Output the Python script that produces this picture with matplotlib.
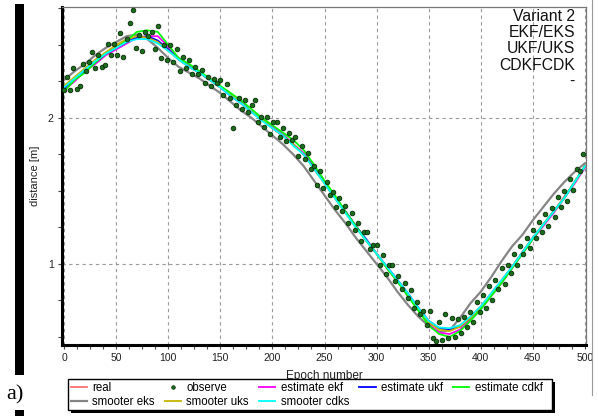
import numpy as np
import matplotlib
matplotlib.use('Agg')
import matplotlib.pyplot as plt
import matplotlib.patches as patch
from matplotlib.lines import Line2D
from matplotlib.ticker import MultipleLocator

plt.rcParams['font.family'] = ['Liberation Sans', 'DejaVu Sans']

epoch = np.arange(0, 501, 10)

real = [2.21, 2.27, 2.33, 2.39, 2.44, 2.49, 2.53, 2.55, 2.55, 2.52, 2.47, 2.41, 2.36, 2.31, 2.26, 2.21, 2.16,
        2.10, 2.04, 1.99, 1.93, 1.88, 1.82, 1.75, 1.66, 1.56, 1.46, 1.36, 1.26, 1.16, 1.07, 0.98, 0.89, 0.79,
        0.70, 0.61, 0.56, 0.55, 0.58, 0.64, 0.71, 0.80, 0.89, 0.98, 1.08, 1.18, 1.27, 1.36, 1.46, 1.56, 1.67]
est_ekf = [2.19, 2.25, 2.32, 2.37, 2.43, 2.47, 2.51, 2.55, 2.56, 2.56, 2.49, 2.41, 2.36, 2.31, 2.27, 2.21, 2.16,
           2.11, 2.04, 1.99, 1.94, 1.89, 1.82, 1.76, 1.67, 1.56, 1.46, 1.36, 1.26, 1.16, 1.07, 0.97, 0.88, 0.78,
           0.69, 0.59, 0.53, 0.52, 0.55, 0.62, 0.69, 0.78, 0.87, 0.97, 1.07, 1.17, 1.26, 1.35, 1.45, 1.55, 1.66]
est_ukf = [2.20, 2.27, 2.32, 2.38, 2.44, 2.48, 2.52, 2.55, 2.56, 2.53, 2.47, 2.40, 2.35, 2.31, 2.26, 2.21, 2.15,
           2.10, 2.04, 1.99, 1.93, 1.88, 1.82, 1.75, 1.66, 1.56, 1.46, 1.36, 1.26, 1.17, 1.07, 0.98, 0.89, 0.80,
           0.70, 0.61, 0.56, 0.55, 0.57, 0.63, 0.70, 0.79, 0.88, 0.98, 1.08, 1.18, 1.27, 1.36, 1.45, 1.56, 1.67]
est_cdkf = [2.18, 2.26, 2.31, 2.38, 2.44, 2.48, 2.53, 2.59, 2.60, 2.59, 2.50, 2.41, 2.37, 2.32, 2.27, 2.22, 2.17,
            2.12, 2.06, 2.00, 1.95, 1.90, 1.85, 1.78, 1.68, 1.57, 1.47, 1.36, 1.26, 1.16, 1.07, 0.97, 0.88, 0.78,
            0.68, 0.58, 0.52, 0.50, 0.54, 0.61, 0.69, 0.78, 0.87, 0.97, 1.07, 1.17, 1.27, 1.36, 1.45, 1.56, 1.67]
smo_eks = [2.26, 2.32, 2.37, 2.43, 2.48, 2.52, 2.56, 2.57, 2.54, 2.48, 2.41, 2.35, 2.31, 2.27, 2.22, 2.17, 2.11,
           2.05, 2.00, 1.94, 1.88, 1.82, 1.75, 1.67, 1.57, 1.47, 1.37, 1.28, 1.18, 1.09, 1.00, 0.91, 0.81, 0.72,
           0.64, 0.575, 0.535, 0.545, 0.63, 0.73, 0.81, 0.91, 1.02, 1.12, 1.20, 1.30, 1.39, 1.48, 1.56, 1.63, 1.69]
smo_uks = [2.22, 2.28, 2.34, 2.40, 2.45, 2.50, 2.54, 2.56, 2.55, 2.52, 2.46, 2.40, 2.35, 2.31, 2.26, 2.21, 2.16,
           2.10, 2.04, 1.99, 1.93, 1.88, 1.82, 1.75, 1.65, 1.55, 1.45, 1.35, 1.25, 1.16, 1.07, 0.97, 0.88, 0.79,
           0.69, 0.60, 0.55, 0.54, 0.57, 0.63, 0.70, 0.79, 0.88, 0.98, 1.08, 1.18, 1.27, 1.36, 1.45, 1.56, 1.67]
smo_cdks = [2.21, 2.27, 2.33, 2.39, 2.44, 2.48, 2.52, 2.54, 2.54, 2.51, 2.46, 2.40, 2.35, 2.31, 2.26, 2.21, 2.15,
            2.10, 2.04, 1.98, 1.93, 1.88, 1.81, 1.75, 1.65, 1.55, 1.45, 1.35, 1.25, 1.16, 1.07, 0.98, 0.89, 0.80,
            0.70, 0.61, 0.565, 0.56, 0.58, 0.64, 0.71, 0.80, 0.89, 0.98, 1.08, 1.18, 1.27, 1.36, 1.45, 1.56, 1.67]

# noisy observations (every 3rd epoch)
obs_epoch = np.arange(0, 500, 3)
observe = [2.19, 2.28, 2.19, 2.34, 2.20, 2.22, 2.37, 2.32, 2.38, 2.45, 2.34, 2.43, 2.35, 2.36, 2.51, 2.43, 2.51,
           2.43, 2.58, 2.42, 2.54, 2.65, 2.74, 2.48, 2.57, 2.46, 2.59, 2.56, 2.59, 2.47, 2.63, 2.41, 2.50, 2.40,
           2.50, 2.38, 2.47, 2.32, 2.42, 2.34, 2.40, 2.30, 2.35, 2.30, 2.33, 2.24, 2.28, 2.22, 2.27, 2.24, 2.26,
           2.16, 2.23, 2.14, 1.93, 2.09, 2.14, 2.06, 2.12, 2.04, 2.09, 2.12, 1.97, 2.01, 1.94, 2.01, 1.89, 1.97,
           1.97, 1.87, 1.93, 1.84, 1.90, 1.85, 1.87, 1.74, 1.81, 1.72, 1.76, 1.65, 1.67, 1.54, 1.64, 1.52, 1.56,
           1.47, 1.49, 1.39, 1.45, 1.36, 1.40, 1.28, 1.35, 1.23, 1.28, 1.16, 1.22, 1.22, 1.10, 1.13, 1.13, 0.99,
           1.06, 0.93, 0.99, 0.99, 0.88, 0.92, 0.83, 0.87, 0.77, 0.82, 0.70, 0.74, 0.66, 0.68, 0.58, 0.68, 0.49,
           0.47, 0.60, 0.48, 0.66, 0.49, 0.63, 0.50, 0.62, 0.53, 0.64, 0.57, 0.67, 0.60, 0.74, 0.67, 0.79, 0.70,
           0.85, 0.75, 0.89, 0.83, 0.97, 0.86, 0.99, 0.94, 1.07, 0.99, 1.12, 1.07, 1.18, 1.11, 1.23, 1.18, 1.29,
           1.22, 1.34, 1.26, 1.38, 1.32, 1.46, 1.39, 1.50, 1.43, 1.58, 1.51, 1.65, 1.64, 1.75]

W, H = 598, 416
fig = plt.figure(figsize=(W / 100, H / 100), dpi=100)

def fx(px):
    return px / W

def fy(py):
    return 1 - py / H

ax = fig.add_axes([fx(62), fy(345), fx(586) - fx(62), fy(7) - fy(345)])

lw = 1.3
h_real, = ax.plot(epoch, real, color='#ff7070', lw=lw, label='real')
h_eks, = ax.plot(epoch, smo_eks, color='#858585', lw=1.6, label='smooter eks')
h_ekf, = ax.plot(epoch, est_ekf, color='#ff00ff', lw=lw, label='estimate ekf')
h_ukf, = ax.plot(epoch, est_ukf, color='#0000ff', lw=lw, label='estimate ukf')
h_uks, = ax.plot(epoch, smo_uks, color='#c8b400', lw=lw, label='smooter uks')
h_cdkf, = ax.plot(epoch, est_cdkf, color='#00ff00', lw=lw, label='estimate cdkf')
h_cdks, = ax.plot(epoch, smo_cdks, color='#00ffff', lw=lw, label='smooter cdks')
ax.scatter(obs_epoch, observe, s=11, facecolor='#1b6e1b', edgecolor='#062a06', linewidth=0.6, zorder=5)
h_obs = Line2D([], [], ls='none', marker='o', ms=2.6, mfc='#1b6e1b', mec='#062a06', mew=0.5, label='observe')

ax.set_xlim(-2, 501)
ax.set_ylim(0.445, 2.76)
ax.xaxis.set_major_locator(MultipleLocator(50))
ax.xaxis.set_minor_locator(MultipleLocator(12.5))
ax.yaxis.set_major_locator(MultipleLocator(1))
ax.yaxis.set_minor_locator(MultipleLocator(0.25))
ax.tick_params(which='both', direction='out', length=3, width=0.8, color='#444444',
               labelsize=7.5, labelcolor='#202020', pad=3)
ax.grid(True, which='major', color='#9a9a9a', ls=(0, (3, 3)), lw=0.8)

for s in ['left', 'bottom']:
    ax.spines[s].set_linewidth(2.2)
    ax.spines[s].set_color('black')
for s in ['top', 'right']:
    ax.spines[s].set_linewidth(0.9)
    ax.spines[s].set_color('#777777')

ax.set_xlabel('Epoch number', fontsize=8.5, color='#202020')
ax.set_ylabel('distance [m]', fontsize=8, color='#202020')
ax.xaxis.set_label_coords(0.5, -0.074)
ax.yaxis.set_label_coords(-0.042, 0.5)

fig.text(fx(575), fy(9), 'Variant 2\nEKF/EKS\nUKF/UKS\nCDKFCDK\n-', ha='right', va='top',
         fontsize=11.3, linespacing=1.1, color='#111111')

# legend box drawn by hand (wider than its content, with a black shadow)
fig.patches.append(patch.Rectangle((fx(71), fy(413)), fx(552) - fx(68), fy(379) - fy(410),
                                   transform=fig.transFigure, facecolor='black', edgecolor='none'))
fig.patches.append(patch.Rectangle((fx(68), fy(410)), fx(552) - fx(68), fy(379) - fy(410),
                                   transform=fig.transFigure, facecolor='white', edgecolor='black', lw=1))
handles = [h_real, h_eks, h_obs, h_uks, h_ekf, h_cdks, h_ukf, h_cdkf]
fig.legend(handles=handles, labels=[h.get_label() for h in handles], ncol=5, frameon=False,
           loc='upper left', bbox_to_anchor=(fx(68), fy(379)), fontsize=8.3, handlelength=1.4,
           handletextpad=0.45, columnspacing=0.9, labelspacing=0.2, borderpad=0.25, borderaxespad=0)

# scan leftovers: black bar on the left, "a)" label and thin line on the right
fig.patches.append(patch.Rectangle((fx(15), fy(375)), fx(9), fy(4) - fy(375),
                                   transform=fig.transFigure, facecolor='black'))
fig.patches.append(patch.Rectangle((fx(15), fy(416)), fx(9), fy(410) - fy(416),
                                   transform=fig.transFigure, facecolor='black'))
fig.text(fx(15), fy(395), 'a)', ha='center', va='center', fontsize=16, family='Liberation Serif')
fig.lines.append(Line2D([fx(592), fx(592)], [fy(0), fy(395)], transform=fig.transFigure,
                        color='#999999', lw=0.8))

fig.savefig('out.png', dpi=100)
